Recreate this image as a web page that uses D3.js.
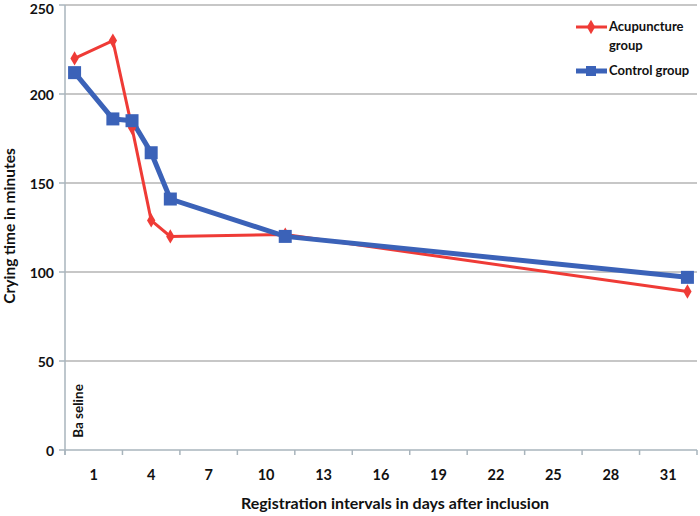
<!DOCTYPE html>
<html><head><meta charset="utf-8">
<script src="https://cdn.jsdelivr.net/npm/d3@7/dist/d3.min.js"></script>
<style>body{margin:0;background:#fff}svg{display:block}text{font-family:Lato,"Open Sans",sans-serif;font-weight:bold;fill:#111}</style>
</head><body><svg id="c" width="700" height="516"></svg>
<script>
const categories = d3.range(0, 33);           // day index, 0 = baseline
const tickLabels = [1,4,7,10,13,16,19,22,25,28,31];
const yTicks = [0,50,100,150,200,250];
const acuDays = [0,2,3,4,5,11,32];
const acuValues = [220,230,181,129,120,121,89];
const ctlDays = [0,2,3,4,5,11,32];
const ctlValues = [212,186,185,167,141,120,97];

const svg = d3.select("#c");
const L = 65, R = 697, T = 5, B = 450;
const x = d3.scaleBand().domain(categories).range([L, R]);
const y = d3.scaleLinear().domain([0,250]).range([B, T]);
const cx = d => x(d) + x.bandwidth()/2;

// gridlines
svg.append("g").selectAll("line").data(yTicks.filter(v=>v>0)).join("line")
  .attr("x1", L).attr("x2", R).attr("y1", d=>y(d)).attr("y2", d=>y(d))
  .attr("stroke", "#b4b4b4").attr("stroke-width", 1.5);
// y axis line
svg.append("line").attr("x1",L).attr("x2",L).attr("y1",T).attr("y2",B+5)
  .attr("stroke","#a8b4bc").attr("stroke-width",1.5);
// y tick marks & labels
svg.append("g").selectAll("line").data(yTicks).join("line")
  .attr("x1",L-6).attr("x2",L).attr("y1",d=>y(d)).attr("y2",d=>y(d))
  .attr("stroke","#a8b4bc").attr("stroke-width",1.5);
svg.append("g").selectAll("text").data(yTicks).join("text")
  .attr("x",54).attr("y",d=>Math.max(y(d)+6, 14)).attr("text-anchor","end")
  .attr("font-size",14).text(d=>d);
// x axis line
svg.append("line").attr("x1",L).attr("x2",R).attr("y1",B).attr("y2",B)
  .attr("stroke","#a8b4bc").attr("stroke-width",1.5);
const xTickPos = categories.filter(c=>c%3===0).map(c=>x(c)).concat([R]);
svg.append("g").selectAll("line").data(xTickPos).join("line")
  .attr("x1",d=>d).attr("x2",d=>d).attr("y1",B).attr("y2",B+5)
  .attr("stroke","#a8b4bc").attr("stroke-width",1.5);
svg.append("g").selectAll("text").data(tickLabels).join("text")
  .attr("x",cx).attr("y",480).attr("text-anchor","middle")
  .attr("font-size",14.5).text(d=>d);

// axis titles
svg.append("text").attr("x",395).attr("y",509).attr("text-anchor","middle")
  .attr("font-size",16).text("Registration intervals in days after inclusion");
svg.append("text").attr("transform","translate(15,226) rotate(-90)")
  .attr("text-anchor","middle").attr("font-size",15.5).text("Crying time in minutes");
svg.append("text").attr("transform","translate(83,411) rotate(-90)")
  .attr("text-anchor","middle").attr("font-size",13.5).text("Ba seline");

const line = d3.line().x(d=>cx(d[0])).y(d=>y(d[1]));
const acu = acuDays.map((d,i)=>[d,acuValues[i]]);
const ctl = ctlDays.map((d,i)=>[d,ctlValues[i]]);
const RED = "#ef3b36", BLUE = "#3b62b8";

svg.append("path").datum(acu).attr("d",line).attr("fill","none")
  .attr("stroke",RED).attr("stroke-width",3);
svg.append("path").datum(ctl).attr("d",line).attr("fill","none")
  .attr("stroke",BLUE).attr("stroke-width",5);
const diamond = d3.symbol().type(d3.symbolDiamond).size(60);
svg.append("g").selectAll("path").data(acu).join("path")
  .attr("transform",d=>`translate(${cx(d[0])},${y(d[1])})`).attr("d",diamond).attr("fill",RED);
svg.append("g").selectAll("rect").data(ctl).join("rect")
  .attr("x",d=>cx(d[0])-6.5).attr("y",d=>y(d[1])-6.5).attr("width",13).attr("height",13).attr("fill",BLUE);

// legend
const lg = svg.append("g");
lg.append("line").attr("x1",576).attr("x2",607).attr("y1",27).attr("y2",27).attr("stroke",RED).attr("stroke-width",3);
lg.append("path").attr("transform","translate(591,27)").attr("d",diamond).attr("fill",RED);
lg.append("text").attr("x",609).attr("y",31).attr("font-size",13).text("Acupuncture");
lg.append("text").attr("x",609).attr("y",50).attr("font-size",13).text("group");
lg.append("line").attr("x1",576).attr("x2",607).attr("y1",71).attr("y2",71).attr("stroke",BLUE).attr("stroke-width",5);
lg.append("rect").attr("x",586).attr("y",66).attr("width",10).attr("height",10).attr("fill",BLUE);
lg.append("text").attr("x",609).attr("y",75).attr("font-size",13).text("Control group");
</script></body></html>
